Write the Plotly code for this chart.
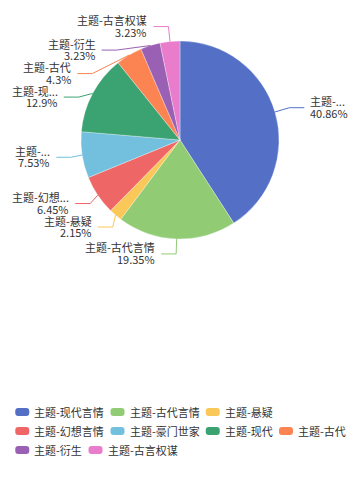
import math
import plotly.graph_objects as go

# ---------------- data ----------------
categories = ["主题-现代言情", "主题-古代言情", "主题-悬疑", "主题-幻想言情", "主题-豪门世家",
              "主题-现代", "主题-古代", "主题-衍生", "主题-古言权谋"]
values = [38, 18, 2, 6, 7, 12, 4, 3, 3]
colors = ["#5470c6", "#91cc75", "#fac858", "#ee6666", "#73c0de",
          "#3ba272", "#fc8452", "#9a60b4", "#ea7ccc"]

# ---------------- layout constants ----------------
W, H = 360, 480
CX, CY, R = 180, 140, 99
LEN1, LEN2, GAP = 15, 15, 5
FS = 11
LABEL_H = 23.5
BLEED = 12
TXT = "#333333"
FONT = "Noto Sans CJK SC"


def px(x):
    return x / W


def py(y):
    return 1 - y / H


def text_w(s):
    w = 0.0
    for ch in s:
        if ord(ch) > 0x2E80:
            w += FS
        elif ch == "-":
            w += FS * 0.34
        elif ch == ".":
            w += FS * 0.27
        elif ch == "%":
            w += FS * 0.87
        else:
            w += FS * 0.55
    return w


def truncate(s, avail):
    if text_w(s) <= avail:
        return s
    for n in range(len(s) - 1, 0, -1):
        t = s[:n] + "..."
        if text_w(t) <= avail:
            return t
    return "..."


def fmt_pct(v, total):
    p = round(v / total * 100, 2)
    return f"{p:.2f}".rstrip("0").rstrip(".") + "%"


total = sum(values)

fig = go.Figure()
fig.add_trace(go.Pie(
    labels=categories, values=values, sort=False, direction="clockwise", rotation=0,
    marker=dict(colors=colors, line=dict(color="rgba(255,255,255,0.6)", width=0.5)),
    textinfo="none", showlegend=False, hoverinfo="label+percent",
    domain=dict(x=[px(CX - R), px(CX + R)], y=[py(CY + R), py(CY - R)]),
))

# ---------------- label layout (echarts-like) ----------------
items = []
cum = 0
for i, v in enumerate(values):
    mid = (cum + v / 2) / total * 2 * math.pi
    cum += v
    s, c = math.sin(mid), math.cos(mid)
    items.append(dict(i=i, sx=CX + R * s, sy=CY - R * c,
                      x2=CX + (R + LEN1) * s, y2=CY - (R + LEN1) * c,
                      side=-1 if s < 0 else 1))

for side in (-1, 1):
    grp = sorted([it for it in items if it["side"] == side], key=lambda d: d["y2"])
    shifted = False
    for k in range(1, len(grp)):
        if grp[k]["y2"] < grp[k - 1]["y2"] + LABEL_H:
            grp[k]["y2"] = grp[k - 1]["y2"] + LABEL_H
            shifted = True
    if shifted and len(grp) > 2:
        R2 = R + 11
        for it in grp[1:-1]:
            dy = it["y2"] - CY
            if abs(dy) < R2:
                it["x2"] = CX + side * math.sqrt(R2 * R2 - dy * dy)

shapes = []
annotations = []
for it in items:
    i, side = it["i"], it["side"]
    x3 = it["x2"] + side * LEN2
    tx = x3 + side * GAP
    avail = (tx - BLEED) if side < 0 else (W - tx - BLEED)
    name = truncate(categories[i], avail)
    shapes.append(dict(
        type="path", xref="paper", yref="paper",
        path=f"M {px(it['sx'])} {py(it['sy'])} L {px(it['x2'])} {py(it['y2'])} L {px(x3)} {py(it['y2'])}",
        line=dict(color=colors[i], width=1)))
    anchor = "right" if side < 0 else "left"
    for txt, dy in ((name, -6.5), (fmt_pct(values[i], total), 5.0)):
        annotations.append(dict(
            x=px(tx), y=py(it["y2"] + dy), xref="paper", yref="paper", text=txt,
            showarrow=False, xanchor=anchor, yanchor="middle", borderpad=0,
            font=dict(size=FS, color=TXT, family=FONT)))

# ---------------- legend (echarts-like, bottom) ----------------
ICON_W, ICON_H, ICON_R = 14, 8, 3
ICON_TXT = 4
ITEM_GAP = 7.5
MAX_W = W - 28
ROW_Y0, ROW_STEP = 412, 19

rows = [[]]
cur = 0
for i, name in enumerate(categories):
    w = ICON_W + ICON_TXT + text_w(name)
    add = w if not rows[-1] else ITEM_GAP + w
    if rows[-1] and cur + add > MAX_W:
        rows.append([])
        cur = w
    else:
        cur += add
    rows[-1].append((i, w))

row_widths = [sum(w for _, w in r) + ITEM_GAP * (len(r) - 1) for r in rows]
left = (W - max(row_widths)) / 2

for r_i, row in enumerate(rows):
    yc = ROW_Y0 + r_i * ROW_STEP
    x = left
    for i, w in row:
        x0, x1 = x, x + ICON_W
        y0, y1 = yc - ICON_H / 2, yc + ICON_H / 2
        rr = ICON_R
        path = (f"M {px(x0 + rr)} {py(y0)} L {px(x1 - rr)} {py(y0)} "
                f"Q {px(x1)} {py(y0)} {px(x1)} {py(y0 + rr)} L {px(x1)} {py(y1 - rr)} "
                f"Q {px(x1)} {py(y1)} {px(x1 - rr)} {py(y1)} L {px(x0 + rr)} {py(y1)} "
                f"Q {px(x0)} {py(y1)} {px(x0)} {py(y1 - rr)} L {px(x0)} {py(y0 + rr)} "
                f"Q {px(x0)} {py(y0)} {px(x0 + rr)} {py(y0)} Z")
        shapes.append(dict(type="path", xref="paper", yref="paper", path=path,
                           fillcolor=colors[i], line=dict(width=0)))
        annotations.append(dict(
            x=px(x1 + ICON_TXT), y=py(yc), xref="paper", yref="paper", text=categories[i],
            showarrow=False, xanchor="left", yanchor="middle", borderpad=0,
            font=dict(size=FS, color=TXT, family=FONT)))
        x += w + ITEM_GAP

fig.update_layout(
    width=W, height=H, margin=dict(l=0, r=0, t=0, b=0),
    paper_bgcolor="white", plot_bgcolor="white",
    font=dict(family=FONT, size=FS, color=TXT),
    shapes=shapes, annotations=annotations, showlegend=False,
)

fig.write_html("out.html", config={"displayModeBar": False},
               post_script="document.body.style.margin='0';")
